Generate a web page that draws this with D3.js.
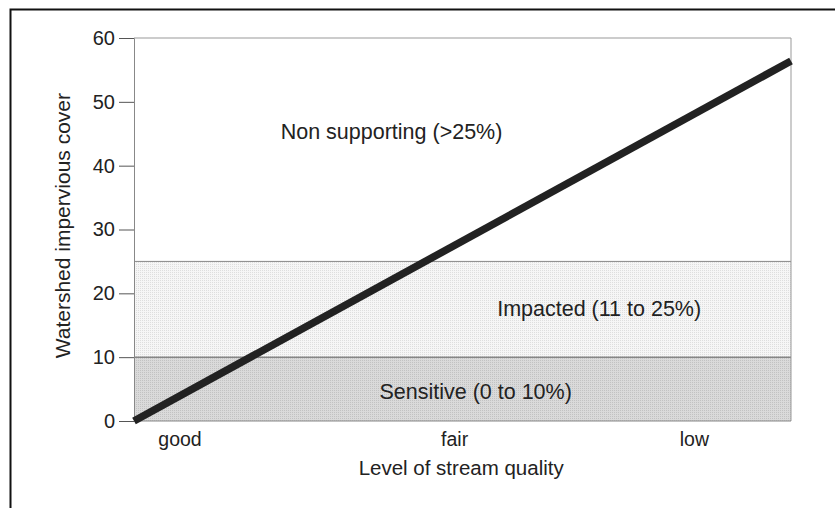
<!DOCTYPE html>
<html>
<head>
<meta charset="utf-8">
<script src="https://cdn.jsdelivr.net/npm/d3@7"></script>
<style>
  html, body { margin: 0; padding: 0; background: #fff; }
  text { font-family: "Liberation Sans", Arial, sans-serif; }
</style>
</head>
<body>
<div id="chart"></div>
<script>
// impervious cover vs stream quality
let width = 835
let height = 508
let margin = ({top: 38, right: 44, bottom: 87, left: 134})

// quality position along the x axis (0 = left edge, 1 = right edge)
let qualityLabels = ["good", "fair", "low"]
let qualityPos = [0.07, 0.488, 0.853]

// the diagonal line: quality position -> impervious cover (%)
let lineX = [0, 1]
let lineY = [0, 56.4]

// classification bands
let bandNames = ["Sensitive (0 to 10%)", "Impacted (11 to 25%)"]
let bandLow = [0, 10]
let bandHigh = [10, 25]
let yTicks = [0, 10, 20, 30, 40, 50, 60]

let x = d3.scaleLinear().domain([0, 1]).range([margin.left, width - margin.right])
let y = d3.scaleLinear().domain([0, 60]).range([height - margin.bottom, margin.top])

let svg = d3.select("#chart").append("svg")
  .attr("width", width)
  .attr("height", height)

// page frame (scan edge)
svg.append("path")
  .attr("d", `M10.5,${height} V9.5 H${width}`)
  .attr("fill", "none")
  .attr("stroke", "#111")
  .attr("stroke-width", 2)

let defs = svg.append("defs")
let p1 = defs.append("pattern").attr("id", "dotsLight")
  .attr("width", 2).attr("height", 2).attr("patternUnits", "userSpaceOnUse")
p1.append("rect").attr("width", 2).attr("height", 2).attr("fill", "#f6f6f6")
p1.append("rect").attr("width", 1).attr("height", 1).attr("fill", "#dedede")
let p2 = defs.append("pattern").attr("id", "dotsDark")
  .attr("width", 2).attr("height", 2).attr("patternUnits", "userSpaceOnUse")
p2.append("rect").attr("width", 2).attr("height", 2).attr("fill", "#dadada")
p2.append("rect").attr("width", 1).attr("height", 1).attr("fill", "#c2c2c2")

let fills = ["url(#dotsDark)", "url(#dotsLight)"]
svg.append("g").selectAll("rect")
  .data(bandNames)
  .join("rect")
  .attr("x", x(0))
  .attr("width", x(1) - x(0))
  .attr("y", (d, i) => y(bandHigh[i]))
  .attr("height", (d, i) => y(bandLow[i]) - y(bandHigh[i]))
  .attr("fill", (d, i) => fills[i])

// band top edges
svg.append("g").selectAll("line")
  .data(bandHigh)
  .join("line")
  .attr("x1", x(0)).attr("x2", x(1))
  .attr("y1", d => y(d)).attr("y2", d => y(d))
  .attr("stroke", (d, i) => i == 0 ? "#555" : "#888")
  .attr("stroke-width", 1)

// plot frame top and right
svg.append("path")
  .attr("d", `M${x(0)},${y(60)} H${x(1)} V${y(0)}`)
  .attr("fill", "none")
  .attr("stroke", "#999")
  .attr("stroke-width", 1)

// y axis
let yAxis = svg.append("g")
  .attr("transform", `translate(${x(0)},0)`)
  .call(d3.axisLeft(y).tickValues(yTicks).tickSize(15).tickPadding(4).tickFormat(d3.format("d")))
yAxis.select(".domain").attr("stroke", "#888")
yAxis.selectAll(".tick line").attr("stroke", "#555")
yAxis.selectAll(".tick text")
  .attr("font-size", 20)
  .attr("fill", "#222")
  .attr("font-family", "Liberation Sans, Arial, sans-serif")

// bottom line at 0
svg.append("line")
  .attr("x1", x(0)).attr("x2", x(1))
  .attr("y1", y(0)).attr("y2", y(0))
  .attr("stroke", "#888")

// x category labels
svg.append("g").selectAll("text")
  .data(qualityLabels)
  .join("text")
  .attr("x", (d, i) => x(qualityPos[i]))
  .attr("y", y(0) + 25)
  .attr("text-anchor", "middle")
  .attr("font-size", 19.5)
  .attr("fill", "#222")
  .text(d => d)

// diagonal line
svg.append("path")
  .attr("d", d3.line().x(d => x(d)).y((d, i) => y(lineY[i]))(lineX))
  .attr("stroke", "#222")
  .attr("stroke-width", 7.5)
  .attr("fill", "none")

// region labels
svg.append("text")
  .attr("x", x(0.392)).attr("y", y(44.1))
  .attr("text-anchor", "middle")
  .attr("font-size", 21.5).attr("fill", "#222")
  .text("Non supporting (>25%)")
svg.append("text")
  .attr("x", x(0.708)).attr("y", y(16.4))
  .attr("text-anchor", "middle")
  .attr("font-size", 21.5).attr("fill", "#222")
  .text(bandNames[1])
svg.append("text")
  .attr("x", x(0.52)).attr("y", y(3.4))
  .attr("text-anchor", "middle")
  .attr("font-size", 21.5).attr("fill", "#222")
  .text(bandNames[0])

// axis titles
svg.append("text")
  .attr("x", x(0.498)).attr("y", y(0) + 54)
  .attr("text-anchor", "middle")
  .attr("font-size", 20.5).attr("fill", "#222")
  .text("Level of stream quality")
svg.append("text")
  .attr("transform", `translate(70,${y(30.6)}) rotate(-90)`)
  .attr("text-anchor", "middle")
  .attr("font-size", 21).attr("fill", "#222")
  .text("Watershed impervious cover")
</script>
</body>
</html>
